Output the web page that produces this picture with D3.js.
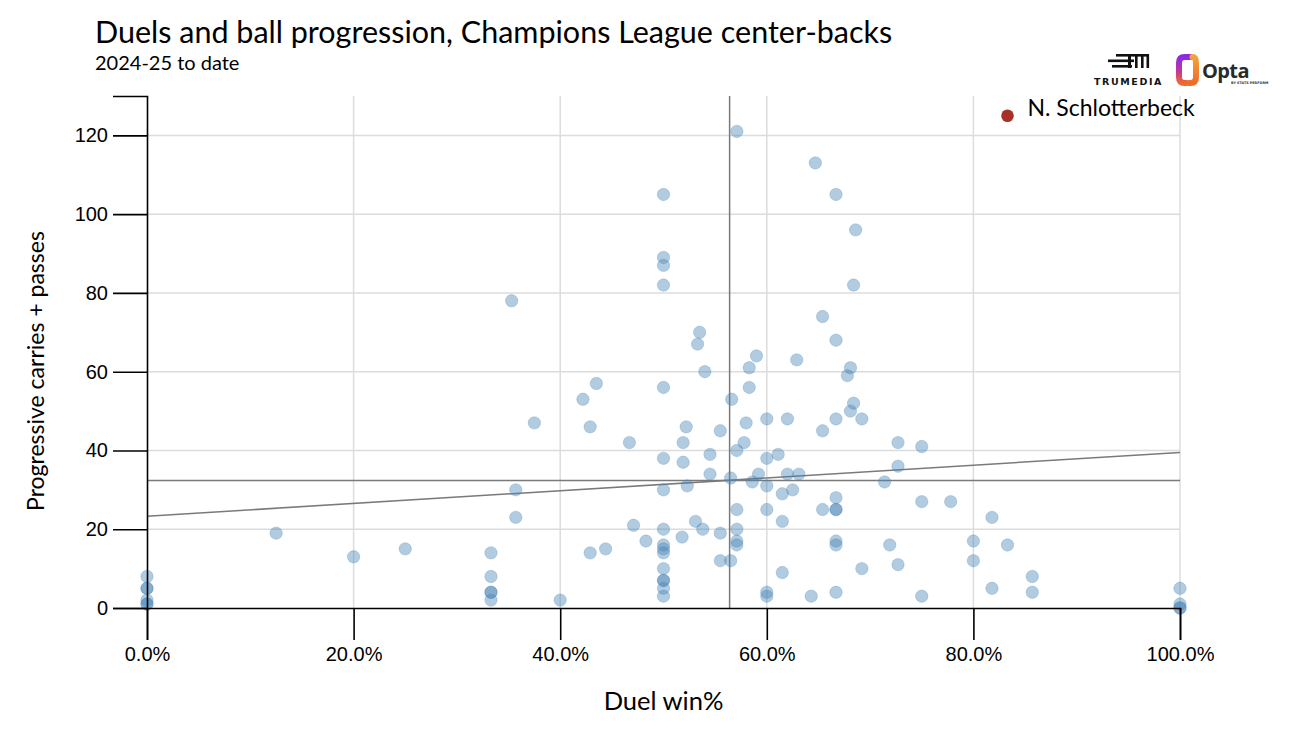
<!DOCTYPE html>
<html>
<head>
<meta charset="utf-8">
<script src="https://cdn.jsdelivr.net/npm/d3@7"></script>
<style>
  html, body { margin: 0; padding: 0; background: #fff; }
  svg { display: block; }
</style>
</head>
<body>
<svg id="chart" width="1296" height="729"></svg>
<script>
// ---------------- DATA ----------------
const titleText = "Duels and ball progression, Champions League center-backs";
const subtitleText = "2024-25 to date";
const xAxisTitle = "Duel win%";
const yAxisTitle = "Progressive carries + passes";

// Duel win share (fraction) for each center-back
const duelWin = [
  0, 0, 0, 0, 0, 0,
  0.125, 0.20, 0.25,
  0.333, 0.333, 0.333, 0.333, 0.333,
  0.353, 0.357, 0.357, 0.375, 0.40,
  0.422, 0.435, 0.429, 0.429, 0.444, 0.467, 0.471, 0.483,
  0.50, 0.50, 0.50, 0.50, 0.50, 0.50, 0.50, 0.50, 0.50, 0.50, 0.50, 0.50, 0.50, 0.50, 0.50, 0.50,
  0.519, 0.519, 0.518, 0.522, 0.523, 0.531, 0.533, 0.535, 0.538, 0.540, 0.545, 0.545,
  0.555, 0.555, 0.555, 0.566, 0.565, 0.565,
  0.571, 0.571, 0.571, 0.571, 0.571, 0.571,
  0.578, 0.580, 0.583, 0.583, 0.586, 0.590, 0.592,
  0.60, 0.60, 0.60, 0.60, 0.60, 0.60,
  0.611, 0.615, 0.615, 0.615, 0.62, 0.62, 0.625, 0.629, 0.631, 0.643, 0.647,
  0.654, 0.654, 0.654,
  0.667, 0.667, 0.667, 0.667, 0.667, 0.667, 0.667, 0.667, 0.667,
  0.681, 0.681, 0.678, 0.684, 0.684, 0.686, 0.692, 0.692,
  0.714, 0.719, 0.727, 0.727, 0.727, 0.75, 0.75, 0.75, 0.778,
  0.80, 0.80, 0.818, 0.818, 0.833, 0.857, 0.857,
  1.0, 1.0, 1.0, 1.0
];
// Progressive carries + passes for each center-back (same order)
const progActions = [
  8, 5, 5, 2, 1, 1,
  19, 13, 15,
  14, 8, 4, 4, 2,
  78, 30, 23, 47, 2,
  53, 57, 46, 14, 15, 42, 21, 17,
  105, 89, 87, 82, 56, 38, 30, 20, 16, 15, 14, 10, 7, 7, 5, 3,
  42, 37, 18, 46, 31, 22, 67, 70, 20, 60, 39, 34,
  45, 19, 12, 53, 33, 12,
  121, 40, 25, 20, 17, 16,
  42, 47, 61, 56, 32, 64, 34,
  48, 38, 31, 25, 4, 3,
  39, 29, 22, 9, 48, 34, 30, 63, 34, 3, 113,
  74, 45, 25,
  105, 68, 48, 28, 25, 25, 17, 16, 4,
  61, 50, 59, 82, 52, 96, 48, 10,
  32, 16, 42, 36, 11, 41, 27, 3, 27,
  17, 12, 23, 5, 16, 8, 4,
  5, 1, 0, 0
];

// Highlighted player
const highlightName = ["N. Schlotterbeck"];
const highlightDuelWin = [0.833];
const highlightProg = [125];

// Reference lines
const meanDuelWin = [0.564];
const meanProg = [32.4];
const trendX = [0, 1];
const trendY = [23.3, 39.5];

// Axis ticks
const xTicks = [0, 0.2, 0.4, 0.6, 0.8, 1.0];
const yTicks = [0, 20, 40, 60, 80, 100, 120];

// ---------------- CHART ----------------
(function () {
const svg = d3.select("#chart");
const pL = 147, pR = 1180, pT = 96, pB = 608;

const x = d3.scaleLinear().domain([0, 1]).range([pL, pR]);
const y = d3.scaleLinear().domain([0, 130]).range([pB, pT]);

const lato = "Lato, 'Noto Sans', sans-serif";
const sansTick = "'Liberation Sans', Arial, Helvetica, sans-serif";

// gridlines
const grid = svg.append("g");
grid.selectAll("line.h").data(yTicks.filter(d => d > 0)).join("line")
  .attr("class", "h")
  .attr("x1", pL).attr("x2", pR)
  .attr("y1", d => y(d)).attr("y2", d => y(d))
  .attr("stroke", "#dcdcdc").attr("stroke-width", 1.5);
grid.selectAll("line.v").data(xTicks.filter(d => d > 0)).join("line")
  .attr("class", "v")
  .attr("x1", d => x(d)).attr("x2", d => x(d))
  .attr("y1", pT).attr("y2", pB)
  .attr("stroke", "#dcdcdc").attr("stroke-width", 1.5);

// reference lines
const refColor = "#7a7a7a";
svg.append("line")
  .attr("x1", x(meanDuelWin[0])).attr("x2", x(meanDuelWin[0]))
  .attr("y1", pT).attr("y2", pB)
  .attr("stroke", refColor).attr("stroke-width", 1.5);
svg.append("line")
  .attr("x1", pL).attr("x2", pR)
  .attr("y1", y(meanProg[0])).attr("y2", y(meanProg[0]))
  .attr("stroke", refColor).attr("stroke-width", 1.5);
svg.append("line")
  .attr("x1", x(trendX[0])).attr("x2", x(trendX[1]))
  .attr("y1", y(trendY[0])).attr("y2", y(trendY[1]))
  .attr("stroke", refColor).attr("stroke-width", 1.5);

// points
const pts = duelWin.map((d, i) => ({ x: d, y: progActions[i] }));
svg.append("g").selectAll("circle").data(pts).join("circle")
  .attr("cx", d => x(d.x)).attr("cy", d => y(d.y)).attr("r", 6.2)
  .attr("fill", "#4682b4").attr("fill-opacity", 0.42)
  .attr("stroke", "#4682b4").attr("stroke-opacity", 0.25).attr("stroke-width", 1);

// axes
const yAxis = d3.axisLeft(y).tickValues(yTicks).tickSize(34).tickPadding(5).tickFormat(d3.format("d"));
const gy = svg.append("g").attr("transform", `translate(${pL},0)`).call(yAxis);
const xAxis = d3.axisBottom(x).tickValues(xTicks).tickSize(32).tickPadding(7).tickFormat(d3.format(".1%"));
const gx = svg.append("g").attr("transform", `translate(0,${pB})`).call(xAxis);
[gx, gy].forEach(g => {
  g.selectAll("path.domain").attr("stroke", "#000").attr("stroke-width", 1.6);
  g.selectAll(".tick line").attr("stroke", "#000").attr("stroke-width", 1.6);
  g.selectAll(".tick text").attr("font-family", sansTick).attr("font-size", 20).attr("fill", "#000");
});

// highlighted player
const hl = highlightName.map((n, i) => ({ name: n, x: highlightDuelWin[i], y: highlightProg[i] }));
const hg = svg.append("g").selectAll("g").data(hl).join("g");
hg.append("circle").attr("cx", d => x(d.x)).attr("cy", d => y(d.y)).attr("r", 6.3)
  .attr("fill", "#a8302a");
hg.append("text").attr("x", d => x(d.x) + 20).attr("y", d => y(d.y))
  .attr("font-family", lato).attr("font-size", 23).attr("fill", "#000")
  .text(d => d.name);

// titles
svg.append("text").attr("x", 95).attr("y", 43)
  .attr("font-family", lato).attr("font-size", 30.5).attr("fill", "#000")
  .text(titleText);
svg.append("text").attr("x", 95).attr("y", 70)
  .attr("font-family", lato).attr("font-size", 20).attr("fill", "#000")
  .text(subtitleText);
svg.append("text").attr("x", (pL + pR) / 2).attr("y", 710)
  .attr("text-anchor", "middle")
  .attr("font-family", lato).attr("font-size", 25.5).attr("fill", "#000")
  .text(xAxisTitle);
svg.append("text")
  .attr("transform", `translate(44,371) rotate(-90)`)
  .attr("text-anchor", "middle")
  .attr("font-family", lato).attr("font-size", 23).attr("fill", "#000")
  .text(yAxisTitle);

// ---------------- LOGOS ----------------
const logo = svg.append("g");
const tm = logo.append("g").attr("fill", "#111");
tm.append("rect").attr("x", 1116).attr("y", 54).attr("width", 20).attr("height", 2.6);
tm.append("rect").attr("x", 1108).attr("y", 59.5).attr("width", 26).attr("height", 2.6);
tm.append("rect").attr("x", 1112).attr("y", 65).attr("width", 20).attr("height", 2.6);
tm.append("rect").attr("x", 1128).attr("y", 54).attr("width", 3).attr("height", 14);
tm.append("rect").attr("x", 1135).attr("y", 54).attr("width", 14).attr("height", 2.6);
tm.append("rect").attr("x", 1135).attr("y", 54).attr("width", 2.6).attr("height", 14);
tm.append("rect").attr("x", 1141).attr("y", 54).attr("width", 2.6).attr("height", 14);
tm.append("rect").attr("x", 1146.5).attr("y", 54).attr("width", 2.6).attr("height", 14);
logo.append("text").attr("x", 1094).attr("y", 85)
  .attr("font-family", "'DejaVu Sans', sans-serif").attr("font-weight", "bold")
  .attr("font-size", 9.5).attr("letter-spacing", 1.6).attr("fill", "#111")
  .text("TRUMEDIA");

const defs = svg.append("defs");
const gradL = defs.append("linearGradient").attr("id", "optaL")
  .attr("x1", 0).attr("y1", 0).attr("x2", 0).attr("y2", 1);
gradL.append("stop").attr("offset", "0%").attr("stop-color", "#8a2be2");
gradL.append("stop").attr("offset", "55%").attr("stop-color", "#c2379a");
gradL.append("stop").attr("offset", "100%").attr("stop-color", "#f0682a");
const gradR = defs.append("linearGradient").attr("id", "optaR")
  .attr("x1", 0).attr("y1", 0).attr("x2", 0).attr("y2", 1);
gradR.append("stop").attr("offset", "0%").attr("stop-color", "#f4a23a");
gradR.append("stop").attr("offset", "100%").attr("stop-color", "#ef6b26");
logo.append("path")
  .attr("d", "M1190,57 H1184.5 Q1179,57 1179,63 V77 Q1179,83 1184.5,83 H1186")
  .attr("fill", "none").attr("stroke", "url(#optaL)").attr("stroke-width", 6).attr("stroke-linecap", "round");
logo.append("path")
  .attr("d", "M1189,83 H1190.5 Q1196,83 1196,77 V63 Q1196,57 1192.5,57")
  .attr("fill", "none").attr("stroke", "url(#optaR)").attr("stroke-width", 6).attr("stroke-linecap", "round");
logo.append("text").attr("x", 1202).attr("y", 77.5)
  .attr("font-family", "'Open Sans', 'DejaVu Sans', sans-serif").attr("font-weight", "bold")
  .attr("font-size", 20).attr("letter-spacing", -0.6).attr("fill", "#2a2a2a")
  .text("Opta");
logo.append("text").attr("x", 1231).attr("y", 84)
  .attr("font-family", "'DejaVu Sans', sans-serif").attr("font-weight", "bold")
  .attr("font-size", 3.4).attr("fill", "#333")
  .text("BY STATS PERFORM");
})();
</script>
</body>
</html>
